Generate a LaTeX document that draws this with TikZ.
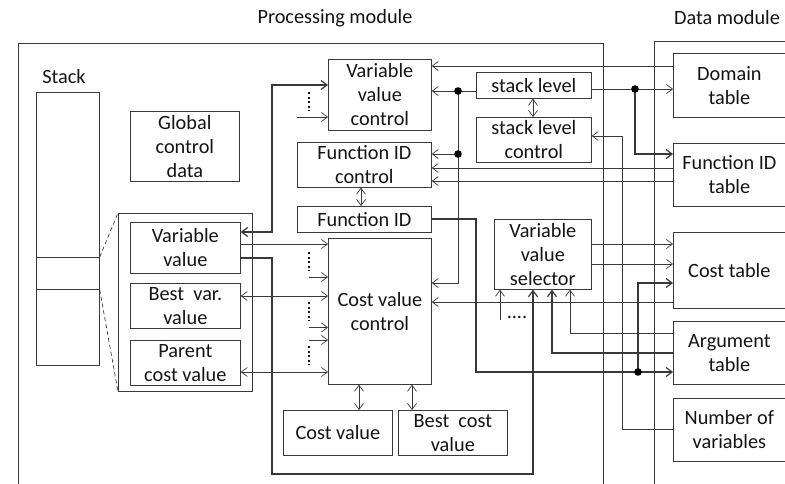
\documentclass[tikz,border=0pt]{standalone}
\usepackage{fontspec}
\setmainfont{Carlito}
\usetikzlibrary{arrows.meta}
\definecolor{linec}{HTML}{383838}
\definecolor{textc}{HTML}{141414}
\newcommand\bx[6]{\node[box, minimum width={#4pt-#2pt}, minimum height={#5pt-#3pt}] (#1) at (#2,#3) {#6};}
\begin{document}
\begin{tikzpicture}[x=1pt,y=-1pt,
  tf/.style={font=\fontsize{20.3}{24}\selectfont, text=textc},
  box/.style={draw=linec, line width=0.7pt, inner sep=0pt, align=center, anchor=north west, tf},
  ln/.style={draw=linec, line width=0.7pt},
  arr/.style={ln, -{Straight Barb[length=6pt,width=9pt]}},
  darr/.style={ln, {Straight Barb[length=6pt,width=9pt]}-{Straight Barb[length=6pt,width=9pt]}},
  bold/.style={line width=1.2pt},
  dotv/.style={draw=textc, line width=2pt, dash pattern=on 2pt off 2.6pt},
  jdot/.style={fill=black},
]
\useasboundingbox (0,0) rectangle (785,484);

% titles
\node[tf] (tproc) at (335,18) {Processing module};
\node[tf] (tdata) at (727,18) {Data module};
\node[tf] (tstack) at (64,77) {Stack};

% module borders
\draw[ln] (18,490) -- (18,43) -- (603,43) -- (603,490);
\draw[ln] (654,490) -- (654,41) -- (790,41);

% stack
\bx{stacktop}{36}{92}{99}{257}{}
\bx{stackcur}{36}{257}{99}{289}{}
\bx{stackbot}{36}{289}{99}{365}{}

\bx{gcd}{130}{111}{239}{181}{Global\\control\\data}
\bx{frame}{118}{213}{252}{391}{}
\draw[ln, dashed, line width=0.7pt, dash pattern=on 4pt off 3pt] (stackcur.north east) -- (frame.north west);
\draw[ln, dashed, line width=0.7pt, dash pattern=on 4pt off 3pt] (stackcur.south east) -- (frame.south west);

\bx{vv}{130}{222}{240}{273}{Variable\\value}
\bx{bvv}{130}{283}{240}{328}{Best\hspace{0.45em}var.\\value}
\bx{pcv}{130}{340}{240}{385}{Parent\\cost value}

\bx{vvc}{328}{59}{431}{130}{Variable\\value\\control}
\bx{fidc}{297}{142}{431}{187}{Function ID\\control}
\bx{fid}{297}{206}{431}{232}{Function ID}
\bx{cvc}{328}{238}{431}{384}{Cost value\\control}
\bx{cv}{283}{410}{392}{455}{Cost value}
\bx{bcv}{398}{410}{507}{455}{Best\hspace{0.45em}cost\\value}

\bx{sl}{476}{72}{591}{98}{stack level}
\bx{slc}{476}{117}{591}{162}{stack level\\control}
\bx{vvs}{494}{219}{591}{289}{Variable\\value\\selector}

\bx{dt}{673}{53}{785}{117}{Domain\\table}
\bx{fidt}{673}{143}{785}{206}{Function ID\\table}
\bx{ct}{673}{232}{785}{308}{Cost table}
\bx{argt}{673}{321}{785}{384}{Argument\\table}
\bx{nv}{673}{398}{785}{461}{Number of\\variables}

% free ends
\coordinate (f1) at (297,117);
\coordinate (f2) at (309,277);
\coordinate (f3) at (309,327.5);
\coordinate (f4) at (309,340);
\coordinate (f5) at (500,320);

% junctions
\coordinate (j1) at (458,91);
\coordinate (j2) at (458,154);
\coordinate (j3) at (635,89);
\coordinate (j4) at (638,372);

% connectors
\draw[arr] (dt.west |- 0,66) -- (vvc.east |- 0,66);
\draw[arr] (sl.west |- 0,91) -- (vvc.east |- 0,91);
\draw[arr] (j1) -- (458,283) -- (cvc.east |- 0,283);
\draw[arr] (j2) -- (fidc.east |- j2);
\draw[arr] (sl.east |- 0,89) -- (dt.west |- 0,89);
\draw[arr, bold] (j3) -- (635,154) -- (fidt.west |- 0,154);
\draw[arr] (fidt.west |- 0,168) -- (fidc.east |- 0,168);
\draw[arr] (fidt.west |- 0,181) -- (fidc.east |- 0,181);
\draw[arr] (nv.west |- 0,429) -- (622,429) -- (622,136) -- (slc.east |- 0,136);
\draw[darr] (sl.south -| 533,0) -- (slc.north -| 533,0);
\draw[darr] (fidc.south -| 361,0) -- (fid.north -| 361,0);
\draw[arr, bold] (fid.east |- 0,219) -- (476,219) -- (476,372) -- (argt.west |- 0,372);
\draw[arr, bold] (j4) -- (638,283) -- (ct.west |- 0,283);
\draw[arr] (vvs.east |- 0,244) -- (ct.west |- 0,244);
\draw[arr] (vvs.east |- 0,264) -- (ct.west |- 0,264);
\draw[arr] (ct.west |- 0,302) -- (cvc.east |- 0,302);
\draw[arr] (argt.west |- 0,333) -- (570,333) -- (vvs.south -| 570,0);
\draw[arr, bold] (argt.west |- 0,353) -- (552,353) -- (vvs.south -| 552,0);
\draw[arr] (f5) -- (vvs.south -| f5);
\node[tf, anchor=base] (dots5) at (517,318) {....};

\draw[darr, bold] (vv.east |- 0,232) -- (272,232) -- (272,85) -- (vvc.west |- 0,85);
\draw[arr, bold] (vv.east |- 0,258) -- (272,258) -- (272,474) -- (533,474) -- (vvs.south -| 533,0);
\draw[arr] (vv.east |- 0,244) -- (cvc.west |- 0,244);
\draw[darr] (bvv.east |- 0,296) -- (cvc.west |- 0,296);
\draw[darr] (pcv.east |- 0,372) -- (cvc.west |- 0,372);
\draw[arr] (f1) -- (vvc.west |- f1);
\draw[arr] (f2) -- (cvc.west |- f2);
\draw[arr] (f3) -- (cvc.west |- f3);
\draw[arr] (f4) -- (cvc.west |- f4);
\draw[darr] (cvc.south -| 359,0) -- (cv.north -| 359,0);
\draw[darr] (cvc.south -| 412,0) -- (bcv.north -| 412,0);

% vertical ellipses
\draw[dotv] (309,92) -- (309,111);
\draw[dotv] (309,252) -- (309,271);
\draw[dotv] (309,302) -- (309,321);
\draw[dotv] (309,346) -- (309,365);

% junction dots
\fill[jdot] (j1) circle (3.8pt);
\fill[jdot] (j2) circle (3.8pt);
\fill[jdot] (j3) circle (3.8pt);
\fill[jdot] (j4) circle (3.8pt);
\end{tikzpicture}
\end{document}
